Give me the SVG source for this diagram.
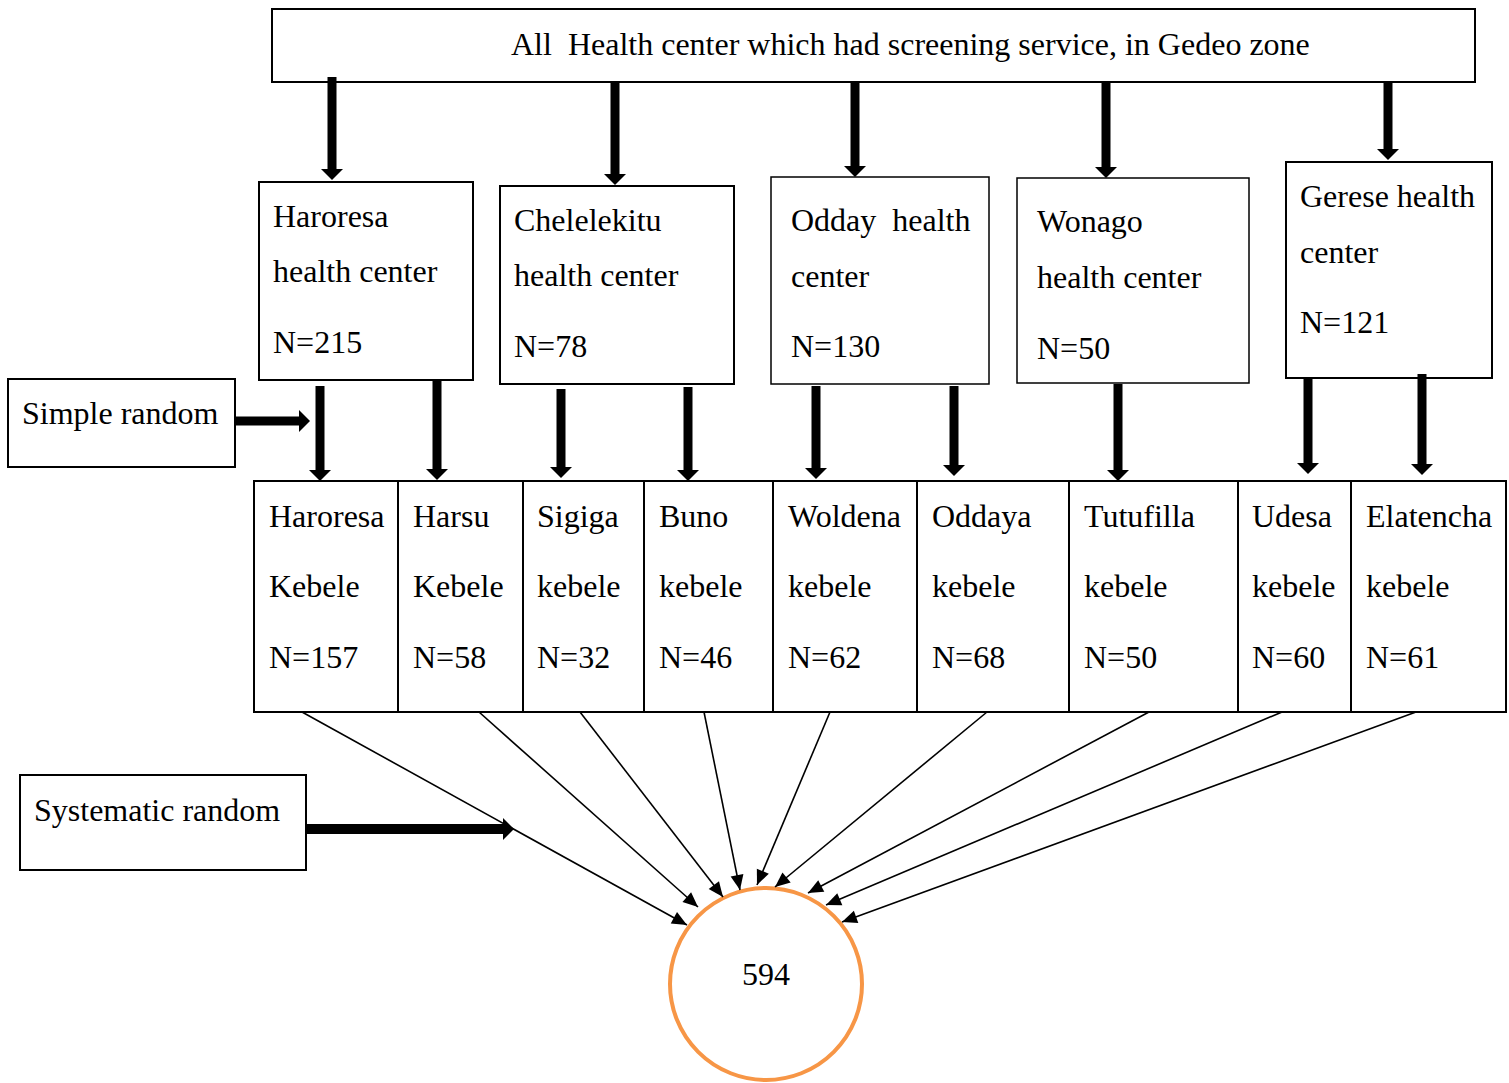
<svg xmlns="http://www.w3.org/2000/svg" width="1509" height="1083" viewBox="0 0 1509 1083">
<style>
text{font-family:"Liberation Serif","Times New Roman",serif;font-size:32px;fill:#000}
.box{fill:#fff;stroke:#000;stroke-width:2}
.thick{stroke:#000;stroke-width:9;fill:none}
.thin{stroke:#000;stroke-width:1.6;fill:none}
</style>
<defs>
<marker id="big" markerUnits="userSpaceOnUse" markerWidth="12" markerHeight="24" viewBox="0 -12 12 24" refX="0" refY="0" orient="auto" overflow="visible">
<path d="M0,-11 L11,0 L0,11 z" fill="#000"/>
</marker>
<marker id="small" markerUnits="userSpaceOnUse" markerWidth="16" markerHeight="14" viewBox="0 -7 16 14" refX="15" refY="0" orient="auto" overflow="visible">
<path d="M0,-6.5 L15,0 L0,6.5 z" fill="#000"/>
</marker>
</defs>

<g id="top">
<rect class="box" x="272" y="9" width="1203" height="73"/>
<text x="511" y="55" xml:space="preserve">All  Health center which had screening service, in Gedeo zone</text>
</g>

<g id="hc-haroresa">
<rect class="box" x="259" y="182" width="214" height="198"/>
<text x="273" y="227">Haroresa</text>
<text x="273" y="282">health center</text>
<text x="273" y="353">N=215</text>
</g>
<g id="hc-chelelekitu">
<rect class="box" x="500" y="186" width="234" height="198"/>
<text x="514" y="231">Chelelekitu</text>
<text x="514" y="286">health center</text>
<text x="514" y="357">N=78</text>
</g>
<g id="hc-odday">
<rect class="box" x="771" y="177" width="218" height="207" style="stroke-width:1.5"/>
<text x="791" y="231" xml:space="preserve">Odday  health</text>
<text x="791" y="287">center</text>
<text x="791" y="357">N=130</text>
</g>
<g id="hc-wonago">
<rect class="box" x="1017" y="178" width="232" height="205" style="stroke-width:1.5"/>
<text x="1037" y="232">Wonago</text>
<text x="1037" y="288">health center</text>
<text x="1037" y="359">N=50</text>
</g>
<g id="hc-gerese">
<rect class="box" x="1286" y="162" width="206" height="216"/>
<text x="1300" y="207">Gerese health</text>
<text x="1300" y="263">center</text>
<text x="1300" y="333">N=121</text>
</g>

<g id="simple-random">
<rect class="box" x="8" y="379" width="227" height="88"/>
<text x="22" y="424">Simple random</text>
</g>

<g id="kebeles">
<rect class="box" x="254" y="481" width="1252" height="231"/>
<g stroke="#000" stroke-width="2">
<line x1="398" y1="481" x2="398" y2="712"/>
<line x1="523" y1="481" x2="523" y2="712"/>
<line x1="644" y1="481" x2="644" y2="712"/>
<line x1="773" y1="481" x2="773" y2="712"/>
<line x1="917" y1="481" x2="917" y2="712"/>
<line x1="1069" y1="481" x2="1069" y2="712"/>
<line x1="1238" y1="481" x2="1238" y2="712"/>
<line x1="1351" y1="481" x2="1351" y2="712"/>
</g>
</g>
<g id="k-haroresa"><text x="269" y="527">Haroresa</text><text x="269" y="597">Kebele</text><text x="269" y="668">N=157</text></g>
<g id="k-harsu"><text x="413" y="527">Harsu</text><text x="413" y="597">Kebele</text><text x="413" y="668">N=58</text></g>
<g id="k-sigiga"><text x="537" y="527">Sigiga</text><text x="537" y="597">kebele</text><text x="537" y="668">N=32</text></g>
<g id="k-buno"><text x="659" y="527">Buno</text><text x="659" y="597">kebele</text><text x="659" y="668">N=46</text></g>
<g id="k-woldena"><text x="788" y="527">Woldena</text><text x="788" y="597">kebele</text><text x="788" y="668">N=62</text></g>
<g id="k-oddaya"><text x="932" y="527">Oddaya</text><text x="932" y="597">kebele</text><text x="932" y="668">N=68</text></g>
<g id="k-tutufilla"><text x="1084" y="527">Tutufilla</text><text x="1084" y="597">kebele</text><text x="1084" y="668">N=50</text></g>
<g id="k-udesa"><text x="1252" y="527">Udesa</text><text x="1252" y="597">kebele</text><text x="1252" y="668">N=60</text></g>
<g id="k-elatencha"><text x="1366" y="527">Elatencha</text><text x="1366" y="597">kebele</text><text x="1366" y="668">N=61</text></g>

<g id="systematic-random">
<rect class="box" x="20" y="775" width="286" height="95"/>
<text x="34" y="821">Systematic random</text>
</g>

<g id="total">
<circle cx="766" cy="984" r="96" fill="#fff" stroke="#F79646" stroke-width="4"/>
<text x="766" y="985" text-anchor="middle">594</text>
</g>

<g id="connectors">
<line class="thick" x1="332" y1="77" x2="332" y2="169" marker-end="url(#big)"/>
<line class="thick" x1="615" y1="82" x2="615" y2="174" marker-end="url(#big)"/>
<line class="thick" x1="855" y1="82" x2="855" y2="166" marker-end="url(#big)"/>
<line class="thick" x1="1106" y1="82" x2="1106" y2="167" marker-end="url(#big)"/>
<line class="thick" x1="1388" y1="82" x2="1388" y2="149" marker-end="url(#big)"/>

<line class="thick" x1="235" y1="421" x2="299" y2="421" marker-end="url(#big)"/>

<line class="thick" x1="320" y1="386" x2="320" y2="470" marker-end="url(#big)"/>
<line class="thick" x1="437" y1="381" x2="437" y2="469" marker-end="url(#big)"/>
<line class="thick" x1="561" y1="389" x2="561" y2="467" marker-end="url(#big)"/>
<line class="thick" x1="688" y1="387" x2="688" y2="470" marker-end="url(#big)"/>
<line class="thick" x1="816" y1="386" x2="816" y2="468" marker-end="url(#big)"/>
<line class="thick" x1="954" y1="386" x2="954" y2="465" marker-end="url(#big)"/>
<line class="thick" x1="1118" y1="384" x2="1118" y2="470" marker-end="url(#big)"/>
<line class="thick" x1="1308" y1="377" x2="1308" y2="463" marker-end="url(#big)"/>
<line class="thick" x1="1422" y1="374" x2="1422" y2="464" marker-end="url(#big)"/>

<line class="thick" x1="305" y1="829" x2="503" y2="829" style="stroke-width:10" marker-end="url(#big)"/>

<line class="thin" x1="302" y1="712" x2="687" y2="925" marker-end="url(#small)"/>
<line class="thin" x1="479" y1="712" x2="698" y2="907" marker-end="url(#small)"/>
<line class="thin" x1="580" y1="712" x2="723" y2="897" marker-end="url(#small)"/>
<line class="thin" x1="704" y1="712" x2="740" y2="890" marker-end="url(#small)"/>
<line class="thin" x1="830" y1="712" x2="757" y2="885" marker-end="url(#small)"/>
<line class="thin" x1="987" y1="712" x2="775" y2="887" marker-end="url(#small)"/>
<line class="thin" x1="1149" y1="712" x2="808" y2="893" marker-end="url(#small)"/>
<line class="thin" x1="1282" y1="712" x2="826" y2="905" marker-end="url(#small)"/>
<line class="thin" x1="1416" y1="712" x2="842" y2="922" marker-end="url(#small)"/>
</g>
</svg>
